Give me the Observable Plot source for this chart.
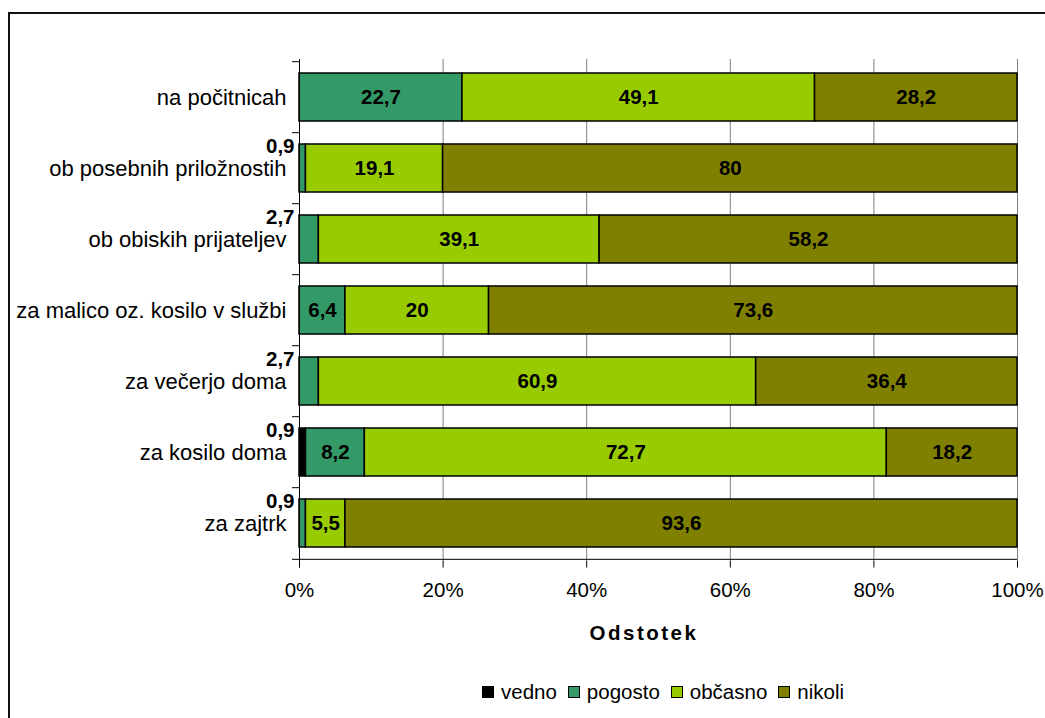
<!DOCTYPE html>
<html>
<head>
<meta charset="utf-8">
<script src="https://cdn.jsdelivr.net/npm/d3@7"></script>
<script src="https://cdn.jsdelivr.net/npm/@observablehq/plot@0.6"></script>
<style>
  html, body { margin: 0; padding: 0; background: #fff; }
  #wrap { position: relative; width: 1045px; height: 718px; overflow: hidden; font-family: "Liberation Sans", Arial, sans-serif; color: #000; }
  #frame { position: absolute; left: 8px; top: 12px; width: 1100px; height: 800px; border: 2px solid #111; box-sizing: border-box; }
  #chart { position: absolute; left: 0; top: 0; }
  #xtitle { position: absolute; left: 444px; width: 400px; top: 621px; text-align: center; font-weight: bold; font-size: 20.5px; letter-spacing: 2.5px; }
  #legend { position: absolute; left: 482px; top: 680px; display: flex; gap: 11px; font-size: 20.5px; white-space: nowrap; }
  #legend span.item { display: inline-flex; align-items: center; }
  #legend span.sw { display: inline-block; width: 10px; height: 10px; border: 1px solid #000; margin-right: 7px; }
</style>
</head>
<body>
<div id="wrap">
  <div id="frame"></div>
  <div id="chart"></div>
  <div id="xtitle">Odstotek</div>
  <div id="legend"></div>
</div>
<script>
// Kdaj uživajo hrano: deleži odgovorov po priložnostih (v %)
const categories = [
  "na počitnicah",
  "ob posebnih priložnostih",
  "ob obiskih prijateljev",
  "za malico oz. kosilo v službi",
  "za večerjo doma",
  "za kosilo doma",
  "za zajtrk"
];
const seriesNames = ["vedno", "pogosto", "občasno", "nikoli"];
const seriesColors = ["#000000", "#339966", "#99CC00", "#808000"];

const vedno   = [0, 0, 0, 0, 0, 0.9, 0];
const pogosto = [22.7, 0.9, 2.7, 6.4, 2.7, 8.2, 0.9];
const obcasno = [49.1, 19.1, 39.1, 20, 60.9, 72.7, 5.5];
const nikoli  = [28.2, 80, 58.2, 73.6, 36.4, 18.2, 93.6];

const xTicks = [0, 20, 40, 60, 80, 100];

// long-format table for stacking
const seriesValues = [vedno, pogosto, obcasno, nikoli];
const rows = [];
categories.forEach((cat, i) => {
  seriesNames.forEach((s, j) => {
    const v = seriesValues[j][i];
    if (v > 0) rows.push({cat, series: s, value: v});
  });
});

const fmt = v => String(v).replace(".", ",");
const halfStep = (560.5 - 59) / categories.length / 2;

const chart = Plot.plot({
  width: 1045,
  height: 610,
  marginLeft: 299,
  marginRight: 28,
  marginTop: 59,
  marginBottom: 49.5,
  style: {fontFamily: "'Liberation Sans', Arial, sans-serif", fontSize: "20px", color: "#000", background: "transparent"},
  x: {domain: [0, 100], label: null},
  y: {domain: categories, paddingInner: 0.32, paddingOuter: 0.16, label: null},
  color: {domain: seriesNames, range: seriesColors},
  marks: [
    // vertical gridlines
    Plot.ruleX(xTicks.filter(t => t > 0), {stroke: "#808080", strokeWidth: 1}),
    // stacked bars
    Plot.barX(rows, Plot.stackX({
      x: "value", y: "cat", fill: "series", order: seriesNames,
      stroke: "#000", strokeWidth: 1.5
    })),
    // values inside bars
    Plot.text(rows, Plot.stackX({
      x: "value", y: "cat", z: "series", order: seriesNames,
      text: d => d.value >= 5 ? fmt(d.value) : "",
      fontWeight: "bold", fontSize: 20.5, fill: "#000"
    })),
    // small values placed beside the bar
    Plot.text(rows.filter(d => d.value < 5), {
      x: 0, y: "cat", text: d => fmt(d.value),
      textAnchor: "end", dx: -5, dy: -22,
      fontWeight: "bold", fontSize: 20.5, fill: "#000"
    }),
    // category separators on the y axis
    Plot.ruleY(categories, {y: d => d, x1: 0, x2: 0, insetLeft: -7, dy: -halfStep, stroke: "#000"}),
    // x axis baseline
    Plot.ruleY([categories[categories.length - 1]], {x1: 0, x2: 100, insetLeft: -7, dy: halfStep, stroke: "#000"}),
    // y axis line
    Plot.ruleX([0], {insetBottom: -7, stroke: "#000"}),
    Plot.axisX({ticks: xTicks, tickFormat: d => d + "%", tickSize: 7, tickPadding: 14, fontSize: 20.5, label: null, stroke: "#000"}),
    Plot.axisY({tickSize: 0, tickPadding: 13, fontSize: 22, label: null})
  ]
});
document.getElementById("chart").appendChild(chart);

// legend
const legend = document.getElementById("legend");
seriesNames.forEach((s, i) => {
  const item = document.createElement("span");
  item.className = "item";
  const sw = document.createElement("span");
  sw.className = "sw";
  sw.style.background = seriesColors[i];
  item.appendChild(sw);
  item.appendChild(document.createTextNode(s));
  legend.appendChild(item);
});
</script>
</body>
</html>
